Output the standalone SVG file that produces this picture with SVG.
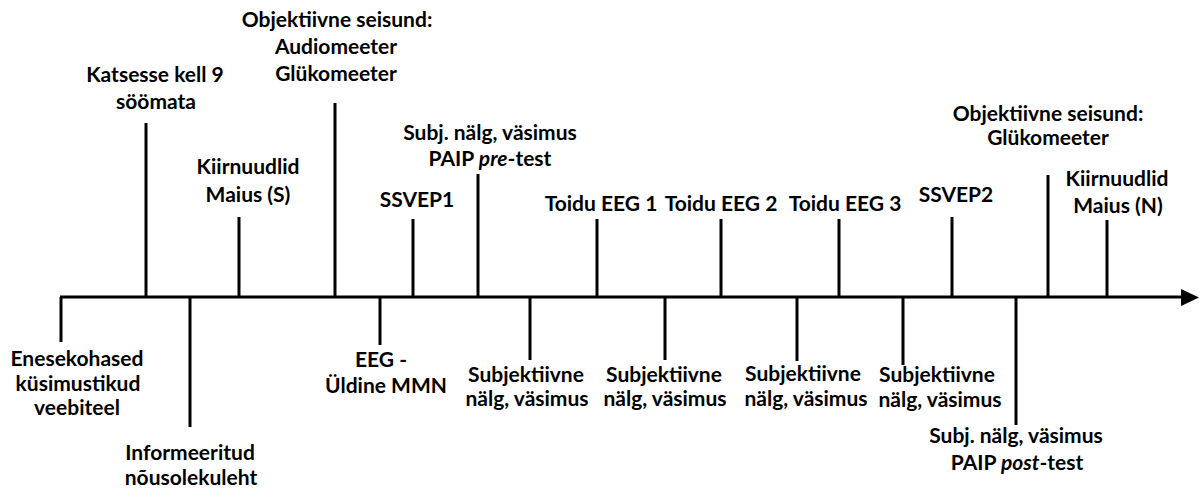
<svg xmlns="http://www.w3.org/2000/svg" width="1199" height="493" viewBox="0 0 1199 493">
<style>
text{font-family:Lato,"Liberation Sans",sans-serif;font-weight:700;font-size:21px;fill:#000;text-anchor:middle}
.tk{stroke:#000;stroke-width:3;fill:none}
.it{font-style:italic}
</style>
<rect width="1199" height="493" fill="#fff"/>
<g id="connectors">
<line class="tk" x1="60" y1="297" x2="1183" y2="297"/>
<polygon points="1181,289 1199,297.5 1181,306" fill="#000"/>
</g>
<g id="n-enesekohased"><line class="tk" x1="61" y1="297" x2="61" y2="342"/>
<text x="77" y="366">Enesekohased</text><text x="78" y="391">küsimustikud</text><text x="77" y="415">veebiteel</text></g>
<g id="n-katsesse"><line class="tk" x1="146" y1="123" x2="146" y2="297"/>
<text x="155" y="82">Katsesse kell 9</text><text x="156" y="109">söömata</text></g>
<g id="n-informeeritud"><line class="tk" x1="190" y1="297" x2="190" y2="427"/>
<text x="190" y="460">Informeeritud</text><text x="191" y="485">nõusolekuleht</text></g>
<g id="n-kiirnuudlid-s"><line class="tk" x1="239" y1="217" x2="239" y2="297"/>
<text x="248" y="174">Kiirnuudlid</text><text x="248" y="202">Maius (S)</text></g>
<g id="n-objektiivne1"><line class="tk" x1="335" y1="103" x2="335" y2="297"/>
<text x="337" y="27">Objektiivne seisund:</text><text x="336" y="54">Audiomeeter</text><text x="336" y="81">Glükomeeter</text></g>
<g id="n-eeg-mmn"><line class="tk" x1="380" y1="297" x2="380" y2="345"/>
<text x="381" y="367">EEG -</text><text x="386" y="393">Üldine MMN</text></g>
<g id="n-ssvep1"><line class="tk" x1="413" y1="219" x2="413" y2="297"/>
<text x="417" y="207">SSVEP1</text></g>
<g id="n-paip-pre"><line class="tk" x1="478" y1="174" x2="478" y2="297"/>
<text x="490" y="140">Subj. nälg, väsimus</text><text x="490" y="166">PAIP <tspan class="it">pre</tspan>-test</text></g>
<g id="n-subj1"><line class="tk" x1="530" y1="297" x2="530" y2="360"/>
<text x="526" y="382">Subjektiivne</text><text x="527" y="406">nälg, väsimus</text></g>
<g id="n-toidu1"><line class="tk" x1="597" y1="219" x2="597" y2="297"/>
<text x="601" y="211">Toidu EEG 1</text></g>
<g id="n-subj2"><line class="tk" x1="665" y1="297" x2="665" y2="360"/>
<text x="664" y="382">Subjektiivne</text><text x="665" y="406">nälg, väsimus</text></g>
<g id="n-toidu2"><line class="tk" x1="721" y1="219" x2="721" y2="297"/>
<text x="721" y="211">Toidu EEG 2</text></g>
<g id="n-subj3"><line class="tk" x1="797" y1="297" x2="797" y2="361"/>
<text x="803" y="381">Subjektiivne</text><text x="806" y="406">nälg, väsimus</text></g>
<g id="n-toidu3"><line class="tk" x1="839" y1="219" x2="839" y2="297"/>
<text x="845" y="211">Toidu EEG 3</text></g>
<g id="n-subj4"><line class="tk" x1="903" y1="297" x2="903" y2="365"/>
<text x="937" y="382">Subjektiivne</text><text x="940" y="407">nälg, väsimus</text></g>
<g id="n-ssvep2"><line class="tk" x1="952" y1="217" x2="952" y2="297"/>
<text x="956" y="202">SSVEP2</text></g>
<g id="n-paip-post"><line class="tk" x1="1016" y1="297" x2="1016" y2="425"/>
<text x="1016" y="443">Subj. nälg, väsimus</text><text x="1017" y="470">PAIP <tspan class="it">post</tspan>-test</text></g>
<g id="n-objektiivne2"><line class="tk" x1="1048" y1="175" x2="1048" y2="297"/>
<text x="1048" y="121">Objektiivne seisund:</text><text x="1048" y="145">Glükomeeter</text></g>
<g id="n-kiirnuudlid-n"><line class="tk" x1="1107" y1="220" x2="1107" y2="297"/>
<text x="1117" y="186">Kiirnuudlid</text><text x="1118" y="213">Maius (N)</text></g>
</svg>
